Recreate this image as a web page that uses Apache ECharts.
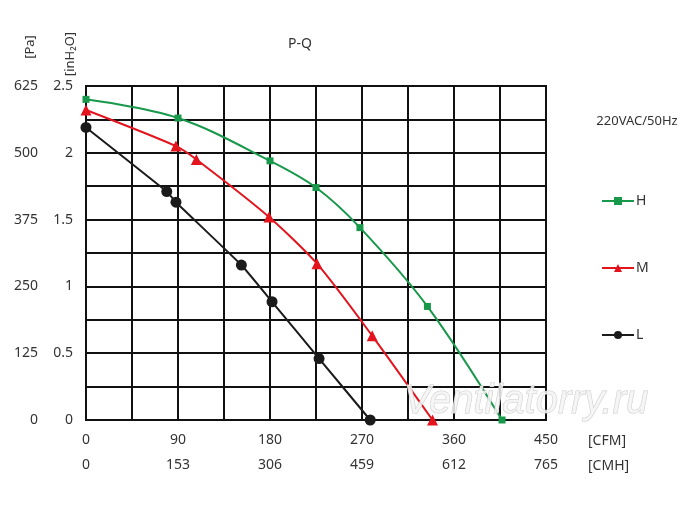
<!DOCTYPE html>
<html>
<head>
<meta charset="utf-8">
<script src="https://cdn.jsdelivr.net/npm/echarts@6/dist/echarts.min.js"></script>
<style>
  html, body { margin: 0; padding: 0; background: #fff; }
  #chart { width: 700px; height: 508px; }
</style>
</head>
<body>
<div id="chart"></div>
<script>
// P-Q curves, airflow in CFM, static pressure in inH2O
var seriesNames = ["H", "M", "L"];
var seriesH = [[0, 2.40], [90, 2.26], [180, 1.94], [225, 1.74], [268, 1.44], [334, 0.85], [407, 0]];
var seriesM = [[0, 2.32], [88, 2.05], [108, 1.95], [179, 1.52], [226, 1.17], [280, 0.63], [339, 0]];
var seriesL = [[0, 2.19], [79, 1.71], [88, 1.63], [152, 1.16], [182, 0.885], [228, 0.46], [278, 0]];
var cfmTicks = [0, 90, 180, 270, 360, 450];
var cmhTicks = [0, 153, 306, 459, 612, 765];
var paTicks = [0, 125, 250, 375, 500, 625];
var inh2oTicks = [0, 0.5, 1, 1.5, 2, 2.5];

var colors = { H: "#17984a", M: "#e3141d", L: "#1b1b1b" };
var textColor = "#333";
var font = "'Noto Sans', 'Open Sans', sans-serif";

function hasTick(list, v) {
  return list.some(function (t) { return Math.abs(t - v) < 1e-6; });
}

var chart = echarts.init(document.getElementById("chart"), null, { renderer: "canvas" });

var gridLine = { show: true, lineStyle: { color: "#111", width: 2 } };

chart.setOption({
  animation: false,
  textStyle: { fontFamily: font, color: textColor },
  title: {
    text: "P-Q", left: 295, top: 32, textAlign: "center",
    textStyle: { fontSize: 14, fontWeight: "normal", color: textColor, fontFamily: font }
  },
  legend: {
    orient: "vertical", left: 601, top: 194, itemGap: 53, padding: 0,
    itemWidth: 32, itemHeight: 10,
    textStyle: { fontSize: 14, color: textColor, padding: [0, 0, 0, -3] },
    data: seriesNames
  },
  grid: { left: 86, right: 154, top: 86, bottom: 88 },
  xAxis: [{
    type: "value", min: 0, max: 450, interval: 45, position: "bottom",
    axisLine: { lineStyle: { color: "#111", width: 2 } },
    axisTick: { show: false },
    splitLine: gridLine,
    axisLabel: {
      margin: 13, fontSize: 14, color: textColor,
      formatter: function (v) { return hasTick(cfmTicks, v) ? String(v) : ""; }
    }
  }, {
    type: "value", min: 0, max: 765, interval: 76.5, position: "bottom", offset: 25,
    axisLine: { show: false }, axisTick: { show: false }, splitLine: { show: false },
    axisLabel: {
      margin: 13, fontSize: 14, color: textColor,
      formatter: function (v) { return hasTick(cmhTicks, v) ? String(Math.round(v)) : ""; }
    }
  }],
  yAxis: [{
    type: "value", min: 0, max: 625, interval: 62.5, position: "left", offset: 34,
    axisLine: { show: false }, axisTick: { show: false }, splitLine: { show: false },
    axisLabel: {
      margin: 14, fontSize: 14, color: textColor,
      formatter: function (v) { return hasTick(paTicks, v) ? String(v) : ""; }
    }
  }, {
    type: "value", min: 0, max: 2.5, interval: 0.25, position: "left",
    axisLine: { lineStyle: { color: "#111", width: 2 } },
    axisTick: { show: false },
    splitLine: gridLine,
    axisLabel: {
      margin: 13, fontSize: 14, color: textColor,
      formatter: function (v) { return hasTick(inh2oTicks, v) ? String(v) : ""; }
    }
  }],
  graphic: [
    { type: "rect", shape: { x: 86, y: 86, width: 460, height: 334 },
      style: { fill: "none", stroke: "#111", lineWidth: 2 }, z: 1 },
    { type: "text", x: 30, y: 47, rotation: Math.PI / 2,
      style: { text: "[Pa]", fill: textColor, font: "13px " + font, align: "center", verticalAlign: "middle" } },
    { type: "text", x: 70, y: 54, rotation: Math.PI / 2,
      style: { text: "[inH\u2082O]", fill: textColor, font: "13px " + font, align: "center", verticalAlign: "middle" } },
    { type: "text", x: 588, y: 441,
      style: { text: "[CFM]", fill: textColor, font: "14px " + font, verticalAlign: "middle" } },
    { type: "text", x: 588, y: 466,
      style: { text: "[CMH]", fill: textColor, font: "14px " + font, verticalAlign: "middle" } },
    { type: "text", x: 637, y: 121,
      style: { text: "220VAC/50Hz", fill: textColor, font: "13px " + font, align: "center", verticalAlign: "middle" } },
    { type: "text", x: 526, y: 402, z: 20,
      style: { text: "Ventilatorry.ru", fill: "rgba(245,245,245,0.85)", stroke: "rgba(200,200,200,0.9)", lineWidth: 1,
               font: "italic 40px 'Liberation Sans', sans-serif", align: "center", verticalAlign: "middle" } }
  ],
  series: [{
    name: "H", type: "line", xAxisIndex: 0, yAxisIndex: 1, data: seriesH,
    smooth: 0.35, symbol: "rect", symbolSize: 7,
    lineStyle: { color: colors.H, width: 2 }, itemStyle: { color: colors.H }, z: 5
  }, {
    name: "M", type: "line", xAxisIndex: 0, yAxisIndex: 1, data: seriesM,
    smooth: 0.25, symbol: "triangle", symbolSize: 11,
    lineStyle: { color: colors.M, width: 2 }, itemStyle: { color: colors.M }, z: 5
  }, {
    name: "L", type: "line", xAxisIndex: 0, yAxisIndex: 1, data: seriesL,
    smooth: 0.1, symbol: "circle", symbolSize: 11,
    lineStyle: { color: colors.L, width: 2 }, itemStyle: { color: colors.L }, z: 5
  }]
});
window.addEventListener("resize", function () { chart.resize(); });
</script>
</body>
</html>
